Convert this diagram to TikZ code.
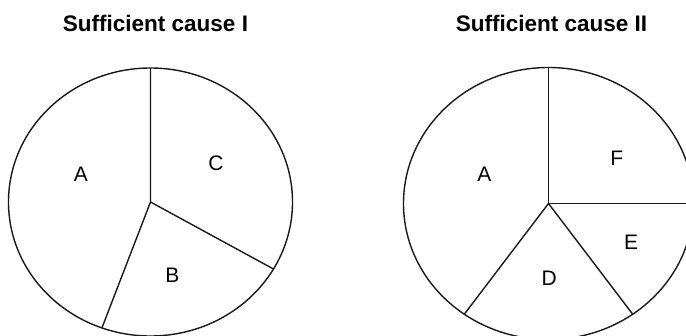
\documentclass[tikz,border=0pt]{standalone}
\usepackage{fontspec}
\setmainfont{Liberation Sans}
\usetikzlibrary{calc}
\begin{document}
\begin{tikzpicture}[x=1pt,y=1pt,
  pie/.style={line width=1.4pt, draw=black!90, line join=round},
  lab/.style={font=\fontsize{21}{21}\selectfont, inner sep=0pt},
  ttl/.style={font=\bfseries\fontsize{22.5}{22.5}\selectfont, inner sep=0pt, anchor=base}]
\clip (0,0) rectangle (686,335);
% left pie
\coordinate (L) at (150.5,133);
\draw[pie] (L) ellipse [x radius=142, y radius=134];
\coordinate (L1) at ($(L)+(90:142 and 134)$);
\coordinate (L2) at ($(L)+(250:142 and 134)$);
\coordinate (L3) at ($(L)+(330:142 and 134)$);
\draw[pie] (L1) -- (L) -- (L2);
\draw[pie] (L) -- (L3);
\node[lab] (la) at (81,161) {A};
\node[lab] (lc) at (216,172) {C};
\node[lab] (lb) at (172.3,60) {B};
\node[ttl] (t1) at (155.5,303) {Sufficient cause I};
% right pie
\coordinate (R) at (548.5,131.5);
\draw[pie] (R) ellipse [x radius=145, y radius=136];
\coordinate (R1) at ($(R)+(90:145 and 136)$);
\coordinate (R2) at ($(R)+(0:145 and 136)$);
\coordinate (R3) at ($(R)+(234.5:145 and 136)$);
\coordinate (R4) at ($(R)+(305.5:145 and 136)$);
\draw[pie] (R1) -- (R) -- (R2);
\draw[pie] (R3) -- (R) -- (R4);
\node[lab] (ra) at (484.3,160.7) {A};
\node[lab] (rf) at (616.7,176.7) {F};
\node[lab] (re) at (631,92.3) {E};
\node[lab] (rd) at (549.3,56.7) {D};
\node[ttl] (t2) at (551.5,303) {Sufficient cause II};
\end{tikzpicture}
\end{document}
